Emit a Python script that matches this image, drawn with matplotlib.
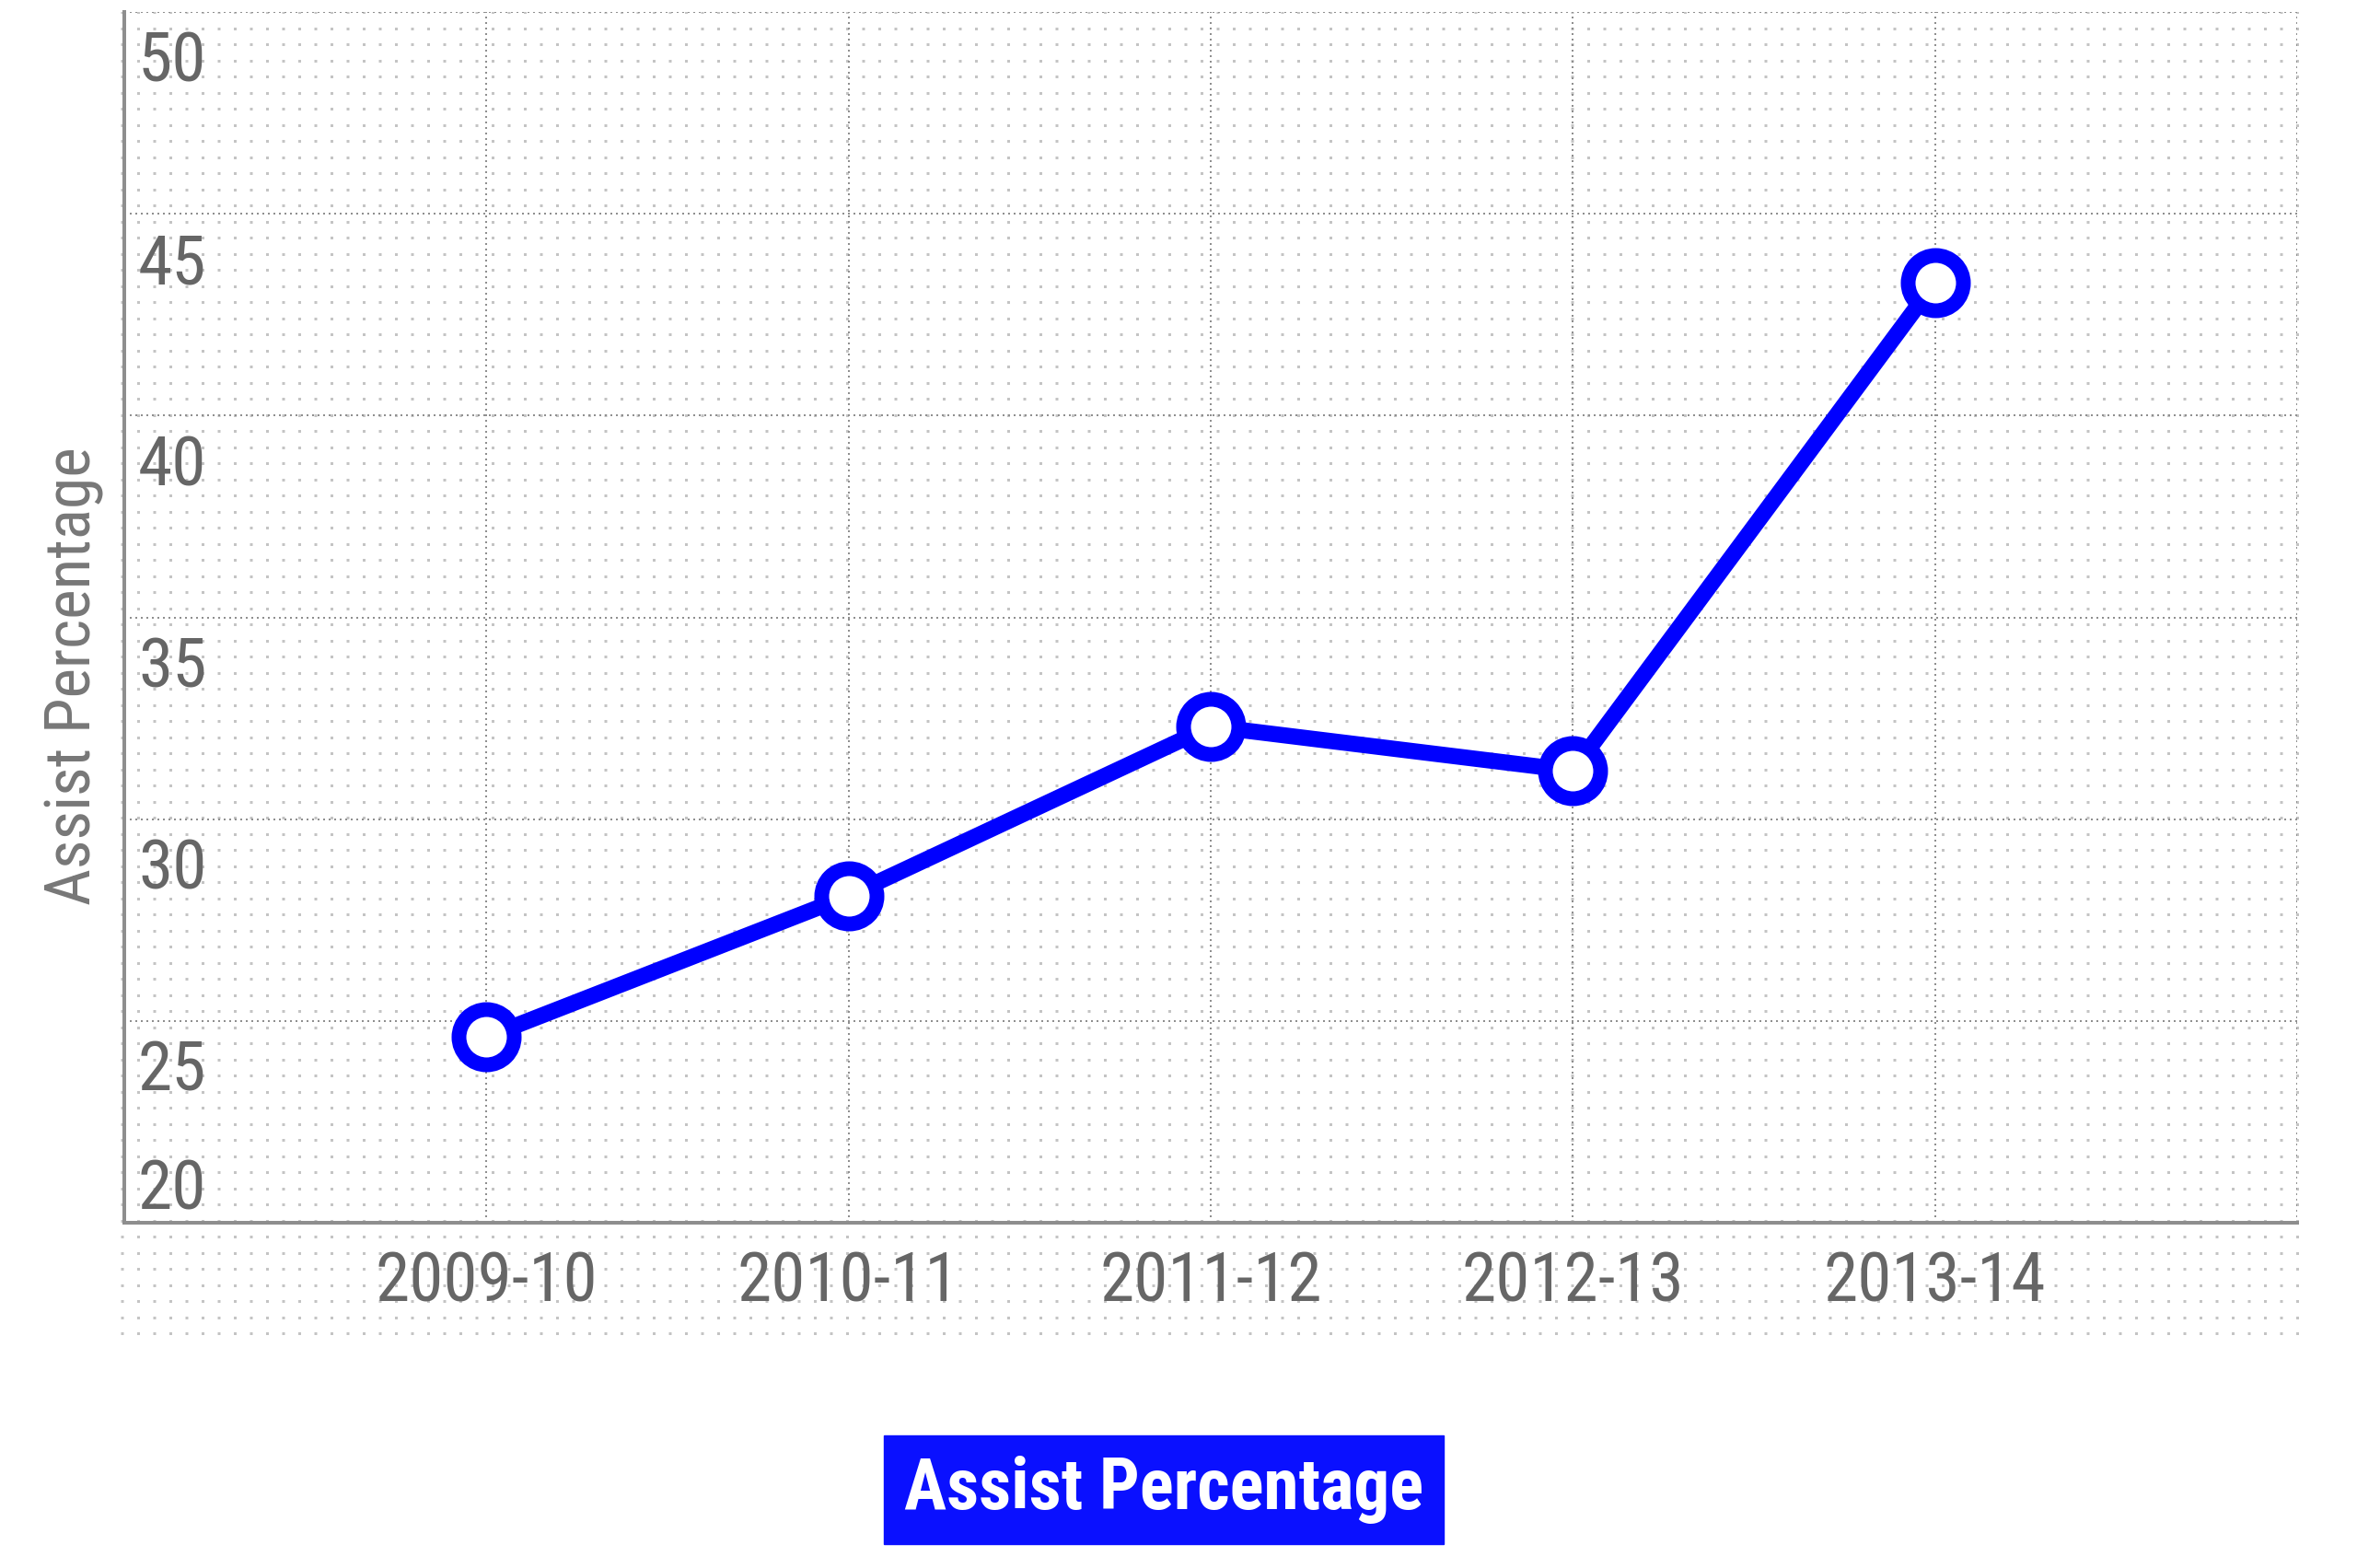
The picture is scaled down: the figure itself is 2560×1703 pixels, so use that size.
import numpy as np
import matplotlib
matplotlib.use("Agg")
import matplotlib.pyplot as plt
from matplotlib import transforms, font_manager
from matplotlib.font_manager import FontProperties

plt.rcParams['lines.scale_dashes'] = False

# ---- data ----
seasons = ["2009-10", "2010-11", "2011-12", "2012-13", "2013-14"]
assist_pct = [24.6, 28.1, 32.3, 31.2, 43.3]
y_ticks = [20, 25, 30, 35, 40, 45, 50]
series_name = "Assist Percentage"

W, H = 2560, 1703
DPI = 100
PX = 72.0 / DPI  # points per pixel


# ---- pick a narrow / condensed sans font if one is installed ----
def find_fonts():
    entries = font_manager.fontManager.ttflist
    prefs = ['Roboto Condensed', 'Liberation Sans Narrow', 'Open Sans Condensed',
             'Noto Sans', 'DejaVu Sans', 'Open Sans', 'Roboto']
    def is_narrow(e):
        n = (e.name + ' ' + e.fname).lower()
        return ('condensed' in n or 'narrow' in n or
                str(e.stretch).lower() in ('condensed', 'semi-condensed', 'extra-condensed', '62.5', '75', '87.5'))
    narrow = [e for e in entries if is_narrow(e) and 'italic' not in e.fname.lower()
              and 'extracondensed' not in e.fname.lower().replace('-', '')
              and 'semicondensed' not in e.fname.lower().replace('-', '')
              and e.style == 'normal']
    for p in prefs:
        fam = [e for e in narrow if e.name.startswith(p)]
        if fam:
            def wnum(e):
                w = e.weight
                if isinstance(w, str):
                    w = {'normal': 400, 'regular': 400, 'bold': 700, 'light': 300,
                         'medium': 500, 'semibold': 600, 'black': 900}.get(w.lower(), 400)
                return w
            reg = min(fam, key=lambda e: abs(wnum(e) - 400))
            bold = min(fam, key=lambda e: abs(wnum(e) - 700))
            return FontProperties(fname=reg.fname), FontProperties(fname=bold.fname)
    return (FontProperties(family=['Liberation Sans', 'DejaVu Sans']),
            FontProperties(family=['Liberation Sans', 'DejaVu Sans'], weight='bold'))


fp_reg, fp_bold = find_fonts()

fig = plt.figure(figsize=(W / DPI, H / DPI), dpi=DPI)
fig.patch.set_facecolor('white')
renderer = fig.canvas.get_renderer()


def measure(text, fp, size):
    t = fig.text(0, 0, text, fontproperties=fp, fontsize=size)
    bb = t.get_window_extent(renderer)
    t.remove()
    return bb.width, bb.height


def fit_size(text, fp, target_w, target_h, hfrac=0.72):
    w, _ = measure(text, fp, 100)
    s_w = 100 * target_w / w
    s_h = (target_h / hfrac) * PX
    return min(s_h, 0.5 * (s_w + s_h)) if s_w < s_h else s_h


xtick_size = fit_size("2009-10", fp_reg, 233, 56)
ytick_size = fit_size("50", fp_reg, 68, 59)
ylabel_size = fit_size("Assist Percentage", fp_reg, 498, 50)

# legend: match text width, then pad to the reference box size
_lw, _ = measure(series_name, fp_bold, 100)
legend_size = 100 * 565 / _lw
_tw, _th = measure(series_name, fp_bold, legend_size)
_size_px = legend_size / PX
legend_pad = (0.3 * ((623 - _tw) / 2) + 0.7 * ((112 - _th) / 2)) / _size_px

# ---- dotted background pattern (decorative) ----
bx0, bx1, by0, by1 = 131, 2497, 13, 1452   # pixel box (top-left origin)
bg = fig.add_axes([bx0 / W, 1 - by1 / H, (bx1 - bx0) / W, (by1 - by0) / H], zorder=0)
bw, bh = bx1 - bx0, by1 - by0
bg.set_xlim(0, bw)
bg.set_ylim(0, bh)
bg.axis('off')
pitch = 17.5
rows = np.arange(bh, 0, -pitch)
bg.hlines(rows, 0, bw, colors='#c4c4c4', linewidth=3 * PX,
          linestyles=[(0, (3 * PX, (pitch - 3) * PX))], capstyle='butt')

# ---- main axes ----
ax_l, ax_r, ax_t, ax_b = 135, 2495, 13, 1328
ax = fig.add_axes([ax_l / W, 1 - ax_b / H, (ax_r - ax_l) / W, (ax_b - ax_t) / H], zorder=2)
ax.set_facecolor('none')
ax.set_xlim(-1, 5)
ax.set_ylim(20, 50)

grid_kw = dict(color='#8f8f8f', linewidth=2 * PX, linestyle=(0, (2 * PX, 4 * PX)))
ax.set_yticks(y_ticks)
ax.set_xticks(range(len(seasons)))
ax.set_xticklabels(seasons, fontproperties=fp_reg, fontsize=xtick_size, color='#666666')
ax.grid(True, **grid_kw)
ax.axvline(5, **grid_kw)
ax.set_axisbelow(True)

for s in ['top', 'right']:
    ax.spines[s].set_visible(False)
for s in ['left', 'bottom']:
    ax.spines[s].set_color('#8e8e8e')
    ax.spines[s].set_linewidth(4 * PX)

ax.tick_params(axis='both', length=0)
ax.tick_params(axis='x', pad=21)
ax.tick_params(axis='y', labelleft=False)

# y tick labels drawn inside the plot, just below each grid line
for v in y_ticks:
    if v == y_ticks[0]:
        off = transforms.offset_copy(ax.transData, fig=fig, x=15 * PX, y=0, units='points')
        va = 'bottom'
    else:
        off = transforms.offset_copy(ax.transData, fig=fig, x=15 * PX, y=-20 * PX, units='points')
        va = 'top'
    ax.text(-1, v, str(v), transform=off, ha='left', va=va,
            fontproperties=fp_reg, fontsize=ytick_size, color='#666666')

ax.set_ylabel("Assist Percentage", fontproperties=fp_reg, fontsize=ylabel_size, color='#777777')
ax.yaxis.label.set_va('center')
ax.yaxis.set_label_coords(-0.0233, 0.4513)

blue = '#0000ff'
line, = ax.plot(range(len(seasons)), assist_pct, color=blue, linewidth=17.5 * PX,
                marker='o', markersize=60 * PX, markeredgewidth=16 * PX,
                markerfacecolor='white', markeredgecolor=blue, label=series_name,
                zorder=5, solid_capstyle='round', solid_joinstyle='round')

leg_prop = fp_bold.copy()
leg_prop.set_size(legend_size)
leg = ax.legend(handles=[line], loc='center',
                bbox_to_anchor=(1264 / W, 1 - 1618 / H), bbox_transform=fig.transFigure,
                handlelength=0, handletextpad=0, borderpad=legend_pad, borderaxespad=0,
                frameon=True, fancybox=False, framealpha=1,
                facecolor='#0a10ff', edgecolor='#0a10ff',
                labelcolor='white', prop=leg_prop)
for h in leg.legend_handles:
    h.set_visible(False)

fig.savefig('out.png', dpi=DPI, facecolor='white')
